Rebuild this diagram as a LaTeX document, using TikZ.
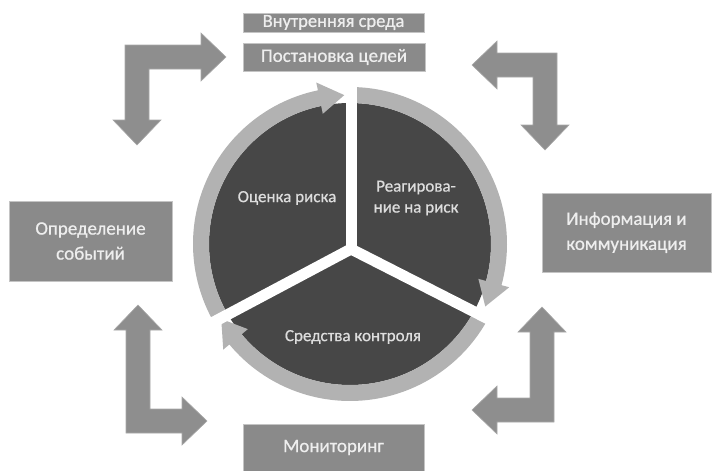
\documentclass[tikz,border=0pt]{standalone}
\usepackage{fontspec}
\setmainfont{Carlito}
\newfontfamily\heavyfont[FakeBold=0.7]{Carlito}
\definecolor{boxgray}{HTML}{8A8A8A}
\definecolor{boxedge}{HTML}{C4C4C4}
\definecolor{arrgray}{HTML}{8E8E8E}
\definecolor{arredge}{HTML}{A8A8A8}
\definecolor{sectgray}{HTML}{474747}
\definecolor{ringgray}{HTML}{B2B2B2}
\definecolor{boxtext}{HTML}{EEEEEE}
\definecolor{secttext}{HTML}{DDDDDD}
\begin{document}
\begin{tikzpicture}[x=1pt,y=-1pt,
  box/.style={draw=boxedge, line width=0.8pt, fill=boxgray, text=boxtext, align=center, inner sep=0pt, font=\heavyfont\fontsize{19}{25}\selectfont},
  larrow/.style={fill=arrgray, draw=arredge, line width=0.6pt, line join=miter},
  sector/.style={fill=sectgray},
  ringseg/.style={fill=ringgray},
  gapline/.style={draw=white, line width=11pt},
  slabel/.style={text=secttext, align=center, font=\heavyfont\fontsize{17}{21}\selectfont}]
\useasboundingbox (0,0) rectangle (712,471);

% central circle
\begin{scope}[shift={(350,244)}, x=1pt, y=1pt]
  \fill[sector] (0,0) circle (141);
  % left ring segment, arrow head at top
  \fill[ringseg] (208:141) arc[start angle=208, end angle=101.8, radius=141]
     -- (101.8:133) -- (92.2:149) -- (101.8:165) -- (101.8:157)
     arc[start angle=101.8, end angle=208, radius=157] -- cycle;
  % right ring segment, arrow head at lower right
  \fill[ringseg] (90:141) arc[start angle=90, end angle=-15.2, radius=141]
     -- (-15.2:133) -- (-24.8:149) -- (-15.2:165) -- (-15.2:157)
     arc[start angle=-15.2, end angle=90, radius=157] -- cycle;
  % bottom ring segment, arrow head at lower left
  \fill[ringseg] (-27:141) arc[start angle=-27, end angle=-140.2, radius=141]
     -- (-140.2:133) -- (-149.8:149) -- (-140.2:165) -- (-140.2:157)
     arc[start angle=-140.2, end angle=-27, radius=157] -- cycle;
  % white gaps
  \coordinate (J) at (1,-5);
  \foreach \a in {90,-27,208} \draw[gapline] (J) -- ++(\a:172);
\end{scope}

\node[slabel] (risk) at (287,198) {Оценка риска};
\node[slabel] (react) at (416,198) {Реагирова-\\ние на риск};
\node[slabel] (ctrl) at (353,337) {Средства контроля};

% L-shaped block arrows
\fill[larrow] (125,45) -- (201,45) -- (201,33) -- (226,57) -- (201,81) -- (201,69)
  -- (149,69) -- (149,120) -- (161,120) -- (137,145) -- (113,120) -- (125,120) -- cycle;
\fill[larrow] (557,53) -- (557,125) -- (569,125) -- (545,150) -- (521,125) -- (533,125)
  -- (533,77) -- (497,77) -- (497,89) -- (472,65) -- (497,41) -- (497,53) -- cycle;
\fill[larrow] (126,433) -- (182,433) -- (182,445) -- (207,421) -- (182,397) -- (182,409)
  -- (150,409) -- (150,330) -- (162,330) -- (138,305) -- (114,330) -- (126,330) -- cycle;
\fill[larrow] (554,422) -- (497,422) -- (497,434) -- (472,410) -- (497,386) -- (497,398)
  -- (530,398) -- (530,332) -- (518,332) -- (542,307) -- (566,332) -- (554,332) -- cycle;

% boxes
\node[box, minimum width=181pt, minimum height=19pt, font=\heavyfont\fontsize{18.5}{20}\selectfont] (inner) at (333.5,22.5) {Внутренняя среда};
\node[box, minimum width=182pt, minimum height=28pt] (goals) at (334,57) {Постановка целей};
\node[box, minimum width=169pt, minimum height=79pt] (info) at (626.5,232.5) {Информация и\\коммуникация};
\node[box, minimum width=163pt, minimum height=80pt] (events) at (90.5,241) {Определение\\событий};
\node[box, minimum width=181pt, minimum height=47pt] (monitor) at (333.5,447.5) {Мониторинг};
\end{tikzpicture}
\end{document}
